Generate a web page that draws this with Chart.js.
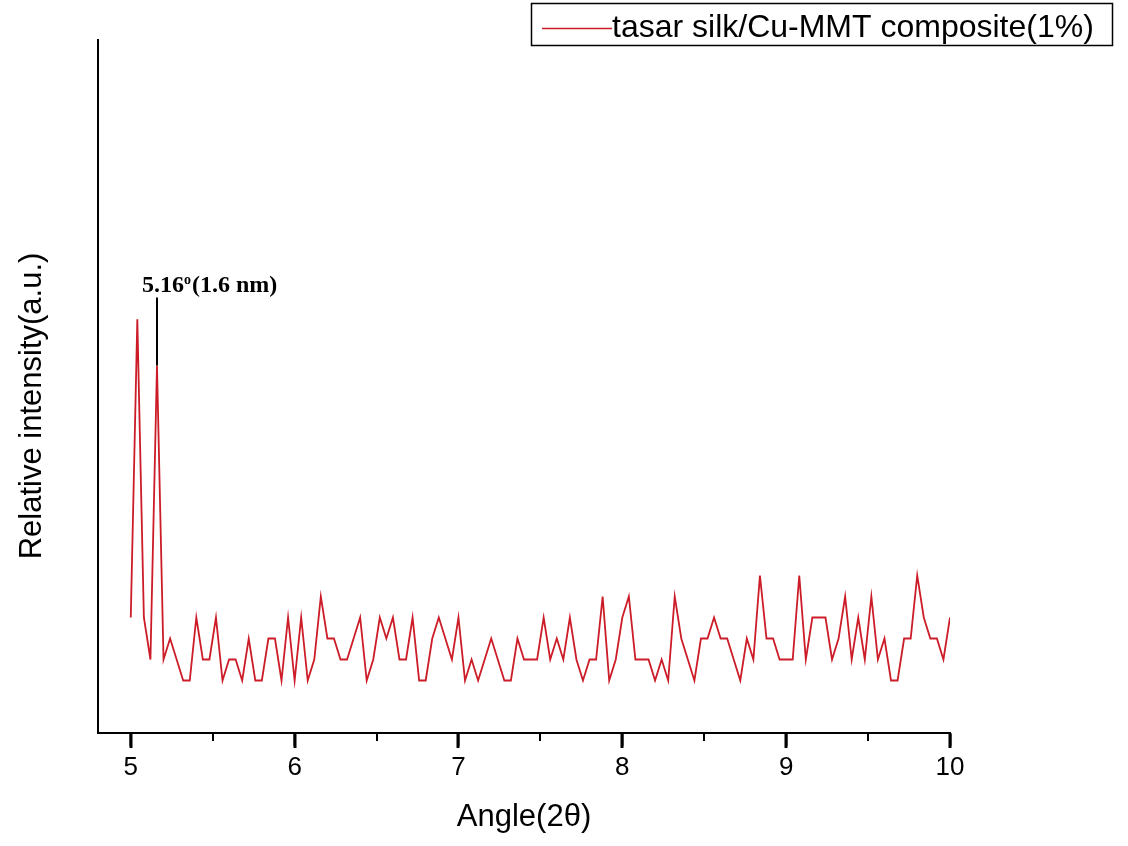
<!DOCTYPE html>
<html>
<head>
<meta charset="utf-8">
<title>XRD tasar silk/Cu-MMT</title>
<script src="https://cdn.jsdelivr.net/npm/chart.js@4/dist/chart.umd.min.js"></script>
<style>
  body { margin: 0; background: #fff; }
  #wrap { width: 1128px; height: 846px; }
</style>
</head>
<body>
<div id="wrap"><canvas id="xrd" width="1128" height="846"></canvas></div>
<script>
// DATA (2-theta step 0.04)
const angles = [
  5.00, 5.04, 5.08, 5.12, 5.16, 5.20, 5.24, 5.28, 5.32, 5.36,
  5.40, 5.44, 5.48, 5.52, 5.56, 5.60, 5.64, 5.68, 5.72, 5.76,
  5.80, 5.84, 5.88, 5.92, 5.96, 6.00, 6.04, 6.08, 6.12, 6.16,
  6.20, 6.24, 6.28, 6.32, 6.36, 6.40, 6.44, 6.48, 6.52, 6.56,
  6.60, 6.64, 6.68, 6.72, 6.76, 6.80, 6.84, 6.88, 6.92, 6.96,
  7.00, 7.04, 7.08, 7.12, 7.16, 7.20, 7.24, 7.28, 7.32, 7.36,
  7.40, 7.44, 7.48, 7.52, 7.56, 7.60, 7.64, 7.68, 7.72, 7.76,
  7.80, 7.84, 7.88, 7.92, 7.96, 8.00, 8.04, 8.08, 8.12, 8.16,
  8.20, 8.24, 8.28, 8.32, 8.36, 8.40, 8.44, 8.48, 8.52, 8.56,
  8.60, 8.64, 8.68, 8.72, 8.76, 8.80, 8.84, 8.88, 8.92, 8.96,
  9.00, 9.04, 9.08, 9.12, 9.16, 9.20, 9.24, 9.28, 9.32, 9.36,
  9.40, 9.44, 9.48, 9.52, 9.56, 9.60, 9.64, 9.68, 9.72, 9.76,
  9.80, 9.84, 9.88, 9.92, 9.96, 10.00
];
const intensity = [
  3, 17.2, 3, 1, 15, 1, 2, 1, 0, 0,
  3, 1, 1, 3, 0, 1, 1, 0, 2, 0,
  0, 2, 2, 0, 3, 0, 3, 0, 1, 4,
  2, 2, 1, 1, 2, 3, 0, 1, 3, 2,
  3, 1, 1, 3, 0, 0, 2, 3, 2, 1,
  3, 0, 1, 0, 1, 2, 1, 0, 0, 2,
  1, 1, 1, 3, 1, 2, 1, 3, 1, 0,
  1, 1, 4, 0, 1, 3, 4, 1, 1, 1,
  0, 1, 0, 4, 2, 1, 0, 2, 2, 3,
  2, 2, 1, 0, 2, 1, 5, 2, 2, 1,
  1, 1, 5, 1, 3, 3, 3, 1, 2, 4,
  1, 3, 1, 4, 1, 2, 0, 0, 2, 2,
  5, 3, 2, 2, 1, 3
];
// tick marks along the angle axis (whole numbers get labels)
const xTickMarks = [5, 5.5, 6, 6.5, 7, 7.5, 8, 8.5, 9, 9.5, 10];
const xTicks = [5, 6, 7, 8, 9, 10];
const seriesLabel = 'tasar silk/Cu-MMT composite(1%)';
const peakAngle = 5.16;
const peakIntensity = 15;

const lineColor = '#cc1c28';

// draws tick marks, the boxed legend, y title and the peak note
const extras = {
  id: 'extras',
  afterDraw(chart) {
    const ctx = chart.ctx;
    const xs = chart.scales.x;
    const ys = chart.scales.y;
    ctx.save();

    // major + minor ticks below the x axis
    ctx.fillStyle = '#000';
    const base = Math.round(ys.bottom);
    xTickMarks.forEach(v => {
      const px = Math.round(xs.getPixelForValue(v));
      if (Number.isInteger(v)) {
        ctx.fillRect(px - 1.5, base, 3, 15);
      } else {
        ctx.fillRect(px - 1, base, 2, 8);
      }
    });

    // legend box
    ctx.strokeStyle = '#000';
    ctx.lineWidth = 1.5;
    ctx.strokeRect(531.5, 3.5, 581, 42);
    ctx.strokeStyle = lineColor;
    ctx.beginPath();
    ctx.moveTo(542, 28.5);
    ctx.lineTo(612, 28.5);
    ctx.stroke();
    ctx.fillStyle = '#000';
    ctx.font = '32px "Liberation Sans", Arial, sans-serif';
    ctx.textBaseline = 'alphabetic';
    ctx.textAlign = 'left';
    ctx.fillText(seriesLabel, 612, 37);

    // y title
    ctx.save();
    ctx.translate(32, 406);
    ctx.rotate(-Math.PI / 2);
    ctx.font = '31px "Liberation Sans", Arial, sans-serif';
    ctx.textAlign = 'center';
    ctx.textBaseline = 'middle';
    ctx.fillText('Relative intensity(a.u.)', 0, 0);
    ctx.restore();

    // peak note
    const px = xs.getPixelForValue(peakAngle);
    const py = ys.getPixelForValue(peakIntensity);
    ctx.strokeStyle = '#000';
    ctx.lineWidth = 2;
    ctx.beginPath();
    ctx.moveTo(px, py);
    ctx.lineTo(px, py - 68);
    ctx.stroke();
    let tx = px - 15;
    const ty = py - 74;
    ctx.font = 'bold 24px "Liberation Serif", "Times New Roman", serif';
    ctx.fillText('5.16', tx, ty);
    tx += ctx.measureText('5.16').width;
    ctx.font = 'bold 14px "Liberation Serif", "Times New Roman", serif';
    ctx.fillText('o', tx, ty - 8);
    tx += ctx.measureText('o').width + 1;
    ctx.font = 'bold 24px "Liberation Serif", "Times New Roman", serif';
    ctx.fillText('(1.6 nm)', tx, ty);

    ctx.restore();
  }
};

new Chart(document.getElementById('xrd'), {
  type: 'line',
  data: {
    datasets: [{
      label: seriesLabel,
      data: angles.map((a, i) => ({ x: a, y: intensity[i] })),
      borderColor: lineColor,
      borderWidth: 1.8,
      pointRadius: 0,
      tension: 0,
      fill: false
    }]
  },
  options: {
    responsive: false,
    animation: false,
    layout: { padding: { top: 40, right: 178, left: 0, bottom: 0 } },
    plugins: {
      legend: { display: false },
      tooltip: { enabled: false }
    },
    scales: {
      x: {
        type: 'linear',
        min: 4.8,
        max: 10,
        afterBuildTicks: (axis) => { axis.ticks = xTicks.map(v => ({ value: v })); },
        afterFit: (scale) => { scale.height = 113; },
        grid: {
          display: true,
          drawOnChartArea: false,
          drawTicks: true,
          tickLength: 13,
          tickWidth: 2,
          tickColor: '#000',
          color: '#000'
        },
        border: { display: true, color: '#000', width: 2 },
        ticks: {
          color: '#000',
          padding: 6,
          maxRotation: 0,
          font: { family: '"Liberation Sans", Arial, sans-serif', size: 26 }
        },
        title: {
          display: true,
          text: 'Angle(2θ)',
          color: '#000',
          padding: { top: 0, bottom: 10 },
          font: { family: '"Liberation Sans", Arial, sans-serif', size: 31 }
        }
      },
      y: {
        min: -2.5,
        max: 30.5,
        afterFit: (scale) => { scale.width = 98; },
        grid: { display: false },
        ticks: { display: false },
        border: { display: true, color: '#000', width: 2 }
      }
    }
  },
  plugins: [extras]
});
</script>
</body>
</html>
